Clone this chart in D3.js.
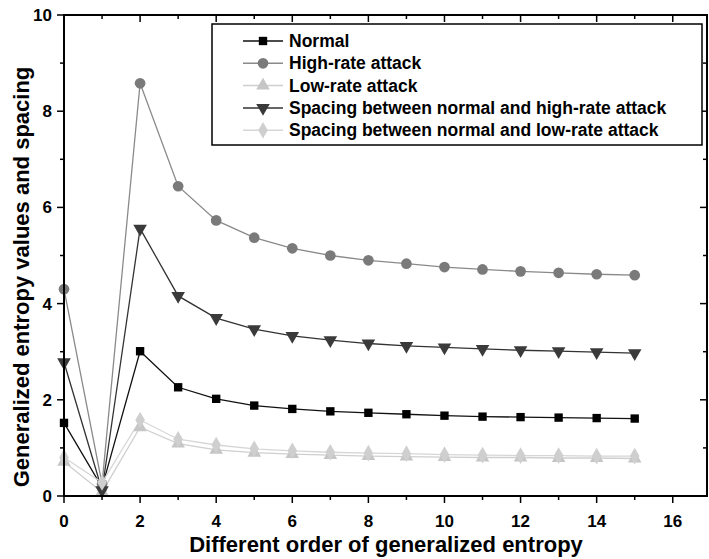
<!DOCTYPE html>
<html><head><meta charset="utf-8">
<script src="https://cdn.jsdelivr.net/npm/d3@7"></script>
<style>body{margin:0;background:#fff}svg{display:block}text{font-family:"Liberation Sans",Arial,sans-serif;font-weight:bold}</style>
</head><body>
<svg id="c" width="709" height="559"></svg>
<script>
const orders = [0,1,2,3,4,5,6,7,8,9,10,11,12,13,14,15];
const normal = [1.52,0.18,3.01,2.26,2.02,1.88,1.81,1.76,1.73,1.70,1.67,1.65,1.64,1.63,1.62,1.61];
const highRate = [4.30,0.25,8.58,6.44,5.73,5.37,5.15,5.00,4.90,4.83,4.76,4.71,4.67,4.64,4.61,4.59];
const lowRate = [0.71,0.08,1.43,1.09,0.96,0.90,0.87,0.85,0.83,0.82,0.81,0.80,0.80,0.79,0.79,0.78];
const spacingHigh = [2.78,0.12,5.56,4.16,3.70,3.47,3.33,3.24,3.17,3.12,3.09,3.06,3.03,3.01,2.99,2.97];
const spacingLow = [0.80,0.28,1.58,1.18,1.06,0.98,0.94,0.91,0.89,0.88,0.86,0.85,0.84,0.84,0.83,0.83];
const seriesNames = ["Normal","High-rate attack","Low-rate attack","Spacing between normal and high-rate attack","Spacing between normal and low-rate attack"];
const xTicks = [0,2,4,6,8,10,12,14,16];
const yTicks = [0,2,4,6,8,10];
const xTitle = "Different order of generalized entropy";
const yTitle = "Generalized entropy values and spacing";

const series = [
  {name:seriesNames[0], values:normal, line:"#111", fill:"#000", sym:d3.symbolSquare, size:70, rot:0},
  {name:seriesNames[1], values:highRate, line:"#8a8a8a", fill:"#7a7a7a", sym:d3.symbolCircle, size:90, rot:0},
  {name:seriesNames[2], values:lowRate, line:"#cfcfcf", fill:"#c6c6c6", sym:d3.symbolTriangle, size:80, rot:0},
  {name:seriesNames[3], values:spacingHigh, line:"#333", fill:"#3a3a3a", sym:d3.symbolTriangle, size:80, rot:180},
  {name:seriesNames[4], values:spacingLow, line:"#d6d6d6", fill:"#cfcfcf", sym:d3.symbolDiamond, size:80, rot:0}
];

const L=64, R=707, T=15, B=496;
const x = d3.scaleLinear().domain([0,16.9]).range([L,R]);
const y = d3.scaleLinear().domain([0,10]).range([B,T]);
const svg = d3.select("#c");

const lineGen = d3.line().x((d,i)=>x(orders[i])).y(d=>y(d));
const plot = svg.append("g");
series.forEach(s=>{
  plot.append("path").attr("d", lineGen(s.values)).attr("fill","none").attr("stroke",s.line).attr("stroke-width",1.3);
});
series.forEach(s=>{
  const sym = d3.symbol().type(s.sym).size(s.size);
  plot.selectAll(null).data(s.values).join("path")
    .attr("d", sym)
    .attr("transform",(d,i)=>`translate(${x(orders[i])},${y(d)}) rotate(${s.rot})`)
    .attr("fill", s.fill);
});

const allX = d3.range(0,17,1), allY = d3.range(0,11,1);
const ax = svg.append("g").attr("stroke","#000");
ax.append("rect").attr("x",L).attr("y",T).attr("width",R-L).attr("height",B-T).attr("fill","none").attr("stroke-width",2);
allX.forEach(v=>{
  const len = v%2===0?7:4;
  ax.append("line").attr("x1",x(v)).attr("x2",x(v)).attr("y1",B).attr("y2",B+len).attr("stroke-width",1.5);
  ax.append("line").attr("x1",x(v)).attr("x2",x(v)).attr("y1",T).attr("y2",T+len).attr("stroke-width",1.5);
});
allY.forEach(v=>{
  const len = v%2===0?7:4;
  ax.append("line").attr("y1",y(v)).attr("y2",y(v)).attr("x1",L).attr("x2",L-len).attr("stroke-width",1.5);
  ax.append("line").attr("y1",y(v)).attr("y2",y(v)).attr("x1",R).attr("x2",R-len).attr("stroke-width",1.5);
});
svg.selectAll(null).data(xTicks).join("text").attr("x",d=>x(d)).attr("y",B+31).attr("text-anchor","middle").attr("font-size",17).text(d=>d);
svg.selectAll(null).data(yTicks).join("text").attr("x",L-12).attr("y",d=>y(d)+6).attr("text-anchor","end").attr("font-size",17).text(d=>d);
svg.append("text").attr("x",386).attr("y",552).attr("text-anchor","middle").attr("font-size",22).text(xTitle);
svg.append("text").attr("transform","translate(29,277) rotate(-90)").attr("text-anchor","middle").attr("font-size",22).text(yTitle);

const lg = svg.append("g");
lg.append("rect").attr("x",212).attr("y",24).attr("width",490).attr("height",121).attr("fill","#fff").attr("stroke","#000").attr("stroke-width",1.5);
series.forEach((s,i)=>{
  const yy = 41 + i*22.3;
  lg.append("line").attr("x1",243).attr("x2",283).attr("y1",yy).attr("y2",yy).attr("stroke",s.line).attr("stroke-width",1.5);
  lg.append("path").attr("d",d3.symbol().type(s.sym).size(s.size)()).attr("transform",`translate(263,${yy}) rotate(${s.rot})`).attr("fill",s.fill);
  lg.append("text").attr("x",289).attr("y",yy+6).attr("font-size",17.5).text(s.name);
});
</script>
</body></html>
